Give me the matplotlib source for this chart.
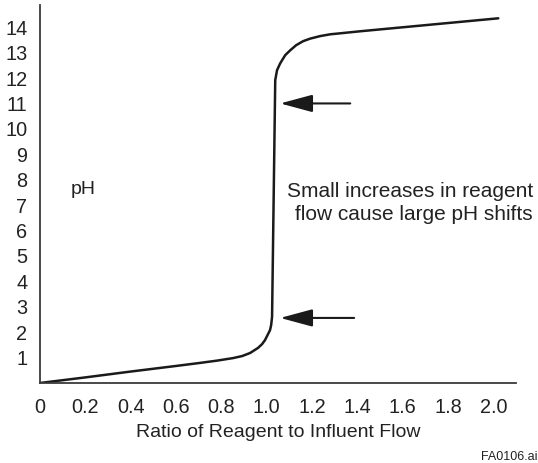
import numpy as np
import matplotlib
matplotlib.use('Agg')
import matplotlib.pyplot as plt

plt.rcParams['font.family'] = ['Liberation Sans', 'DejaVu Sans']

# titration curve read as (reagent ratio, pH)
ratio = [0, 0.2, 0.4, 0.6, 0.706, 0.781, 0.852, 0.892, 0.927, 0.962, 0.98,
         0.993, 1.002, 1.015, 1.02, 1.024, 1.038, 1.046, 1.06, 1.082, 1.104,
         1.13, 1.161, 1.192, 1.236, 1.28, 1.325, 1.413, 2.022]
ph = [0, 0.22, 0.45, 0.67, 0.79, 0.88, 0.98, 1.06, 1.18, 1.38, 1.53,
      1.69, 1.85, 2.08, 2.28, 2.60, 11.92, 12.31, 12.58, 12.90, 13.09,
      13.29, 13.45, 13.55, 13.65, 13.72, 13.76, 13.84, 14.35]

x_ticks = [0, 0.2, 0.4, 0.6, 0.8, 1.0, 1.2, 1.4, 1.6, 1.8, 2.0]
x_labels = ['0', '0.2', '0.4', '0.6', '0.8', '1.0', '1.2', '1.4', '1.6', '1.8', '2.0']
y_ticks = list(range(1, 15))

# arrows pointing at the steep part: (pH, tail x, tip x)
arrows = [(11.0, 1.369, 1.060), (2.56, 1.386, 1.060)]

txt = '#222222'
fig = plt.figure(figsize=(5.38, 4.63), dpi=100)
ax = fig.add_axes([0.0743, 0.1728, 0.959 - 0.0743, 0.989 - 0.1728])

ax.plot(ratio, ph, color='#1a1a1a', lw=1.8, solid_capstyle='round',
        solid_joinstyle='round')

for y, x0, x1 in arrows:
    ax.annotate('', xy=(x1, y), xytext=(x0, y),
                arrowprops=dict(arrowstyle='-|>,head_length=1.0,head_width=0.27',
                                color='#1a1a1a', lw=1.5, shrinkA=0, shrinkB=0,
                                mutation_scale=20))

ax.set_xlim(0, 2.10)
ax.set_ylim(0, 14.87)
ax.set_xticks(x_ticks)
ax.set_xticklabels(x_labels)
ax.set_yticks(y_ticks)
ax.tick_params(length=0, labelsize=14.3, colors=txt)
ax.tick_params(axis='x', pad=11)
ax.tick_params(axis='y', pad=9)

for s in ['top', 'right']:
    ax.spines[s].set_visible(False)
for s in ['left', 'bottom']:
    ax.spines[s].set_color('#3a3a3a')
    ax.spines[s].set_linewidth(1.3)

ax.set_xlabel('Ratio of Reagent to Influent Flow', fontsize=14, color=txt, labelpad=5)

fig.text(83 / 538, 1 - 190 / 463, 'pH', fontsize=14, color=txt, ha='center', va='center')
fig.text(533 / 538, 1 - 203 / 463, 'Small increases in reagent\nflow cause large pH shifts',
         fontsize=15, color=txt, ha='right', va='center', multialignment='right',
         linespacing=1.3)
fig.text(537 / 538, 1 - 457 / 463, 'FA0106.ai', fontsize=9, color=txt, ha='right', va='center')

fig.savefig('out.png', dpi=100)
